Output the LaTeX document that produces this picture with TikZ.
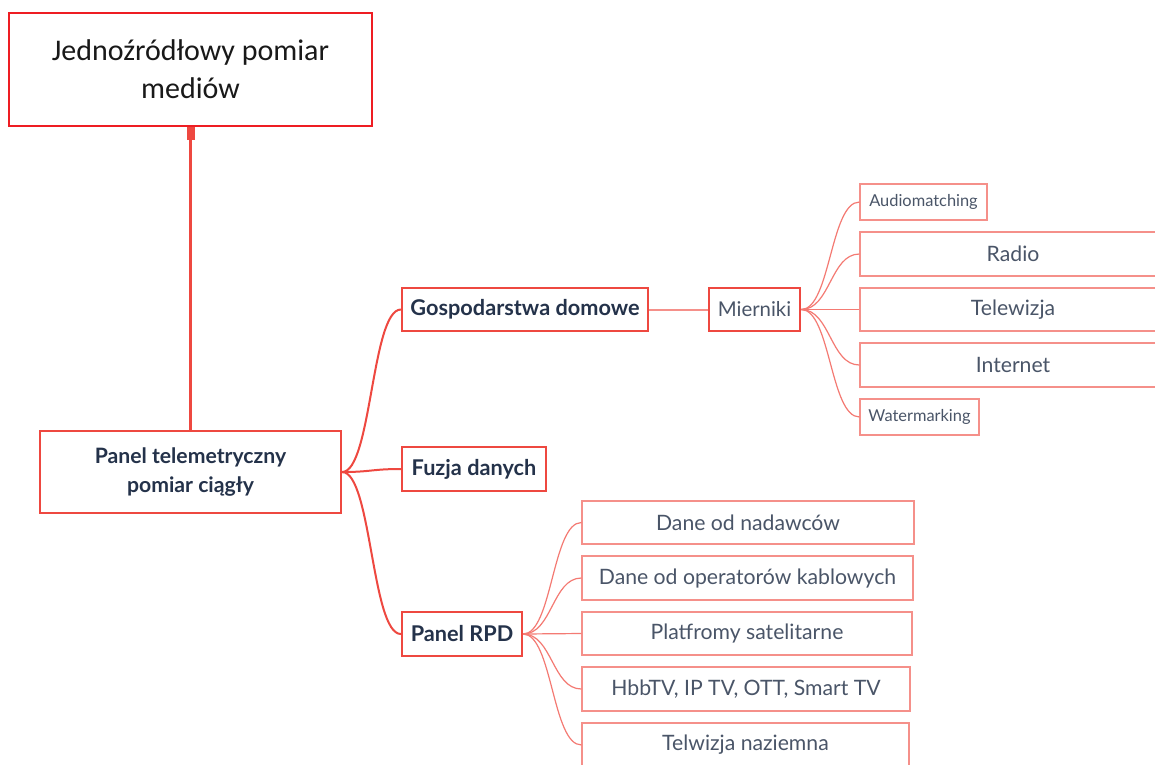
\documentclass[tikz,border=0pt]{standalone}
\usepackage{fontspec}
\setmainfont{Lato}
\newfontfamily\titlefont{Carlito}
\usetikzlibrary{calc}
\definecolor{titlered}{HTML}{EE1D23}
\definecolor{mainred}{HTML}{EE4840}
\definecolor{leafred}{HTML}{F5908A}
\definecolor{leafline}{HTML}{F47A73}
\definecolor{navy}{HTML}{24324A}
\definecolor{leaftext}{HTML}{4A5568}
\begin{document}
\begin{tikzpicture}[x=1pt,y=-1pt,
  titlebox/.style={draw=titlered, line width=2pt, rectangle, inner sep=0pt, align=center, text=black!90, font=\titlefont\fontsize{30}{38}\selectfont},
  mainbox/.style={draw=mainred, line width=2.2pt, rectangle, inner sep=0pt, align=center, text=navy, font=\bfseries\fontsize{21.7}{26}\selectfont},
  midbox/.style={draw=mainred, line width=2.5pt, rectangle, inner sep=0pt, align=center, text=leaftext, font=\fontsize{20.4}{24}\selectfont},
  leafbox/.style={draw=leafred, line width=1.2pt, rectangle, inner sep=0pt, align=center, text=leaftext, font=\fontsize{21.2}{24}\selectfont},
  smallleaf/.style={leafbox, font=\fontsize{16.4}{18}\selectfont},
  mainline/.style={draw=mainred, line width=2pt},
  leafconn/.style={draw=leafline, line width=1.2pt},
]
\useasboundingbox (0,0) rectangle (1155,764);
\fill[white] (0,0) rectangle (1155,764);

% nodes
\node[titlebox, minimum width=363pt, minimum height=113pt] (title) at (190.5,69.5) {Jednoźródłowy pomiar\\mediów};
\node[mainbox, minimum width=301pt, minimum height=82pt, font=\bfseries\fontsize{21.2}{29}\selectfont] (panel) at (190.5,472) {Panel telemetryczny\\pomiar ciągły};
\node[mainbox, minimum width=246pt, minimum height=43pt] (gosp) at (525,309.5) {Gospodarstwa domowe};
\node[mainbox, minimum width=144pt, minimum height=44pt] (fuzja) at (474,469) {Fuzja danych};
\node[mainbox, minimum width=120pt, minimum height=44pt] (rpd) at (462,634) {Panel RPD};
\node[midbox, minimum width=91pt, minimum height=43pt] (mier) at (754.5,309.5) {Mierniki};

\node[smallleaf, minimum width=127pt, minimum height=36pt] (audio) at (923.5,202) {Audiomatching};
\node[leafbox, minimum width=306pt, minimum height=44pt] (radio) at (1013,254) {Radio};
\node[leafbox, minimum width=306pt, minimum height=43pt] (tv) at (1013,309.5) {Telewizja};
\node[leafbox, minimum width=306pt, minimum height=44pt] (inter) at (1013,365) {Internet};
\node[smallleaf, minimum width=119pt, minimum height=36pt] (water) at (919.5,417) {Watermarking};

\node[leafbox, minimum width=332pt, minimum height=43pt] (d1) at (748,522.5) {Dane od nadawców};
\node[leafbox, minimum width=331pt, minimum height=44pt] (d2) at (747.5,578) {Dane od operatorów kablowych};
\node[leafbox, minimum width=330pt, minimum height=43pt] (d3) at (747,633.5) {Platfromy satelitarne};
\node[leafbox, minimum width=328pt, minimum height=44pt] (d4) at (746,689) {HbbTV, IP TV, OTT, Smart TV};
\node[leafbox, minimum width=327pt, minimum height=44pt] (d5) at (745.5,745) {Telwizja naziemna};

% title connector
\coordinate (tcap) at ($(title.south)+(0,13)$);
\fill[mainred] ($(title.south)+(-4,0)$) rectangle ($(tcap)+(4,0)$);
\draw[draw=mainred, line width=3pt] (tcap) -- (panel.north);

% curved connectors
\newcommand{\curveconn}[3]{%
  \draw[#1] let \p1=(#2.east), \p2=(#3.west) in
    (\p1) .. controls ({0.5*\x1+0.5*\x2},\y1) and ({0.5*\x1+0.5*\x2},\y2) .. (\p2);}
\curveconn{mainline}{panel}{gosp}
\curveconn{mainline}{panel}{fuzja}
\curveconn{mainline}{panel}{rpd}

\draw[draw=leafred, line width=2pt] (gosp.east) -- (mier.west);

\foreach \c in {audio,radio,tv,inter,water}{\curveconn{leafconn}{mier}{\c}}
\foreach \c in {d1,d2,d3,d4,d5}{\curveconn{leafconn}{rpd}{\c}}
\end{tikzpicture}
\end{document}
